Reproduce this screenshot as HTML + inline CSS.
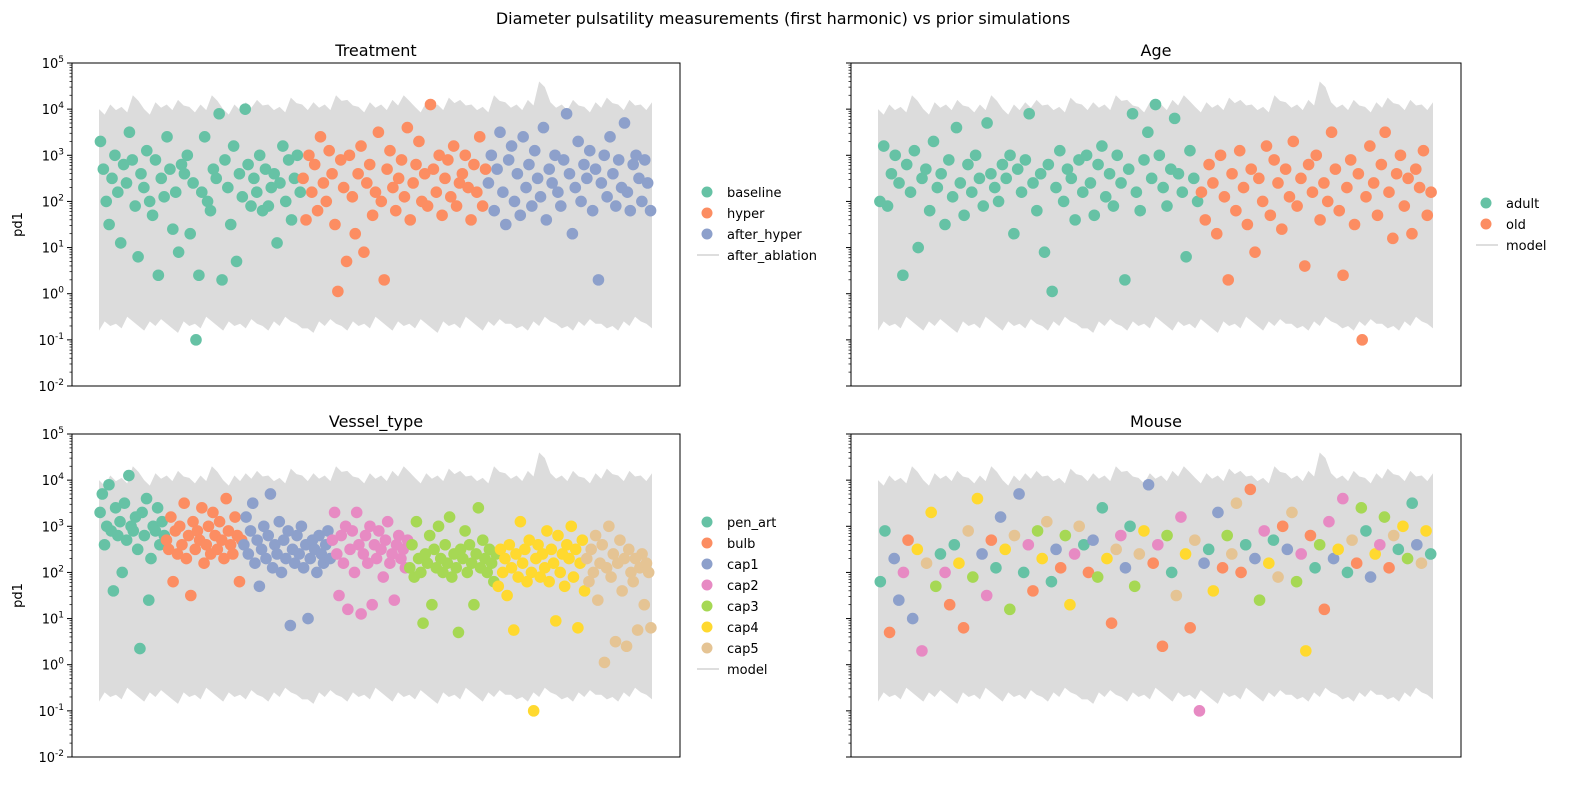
<!DOCTYPE html>
<html><head><meta charset="utf-8"><style>
body{margin:0;background:#fff;font-family:"Liberation Sans","DejaVu Sans",sans-serif;}
svg text{font-family:"DejaVu Sans","Liberation Sans",sans-serif;}
</style></head><body>
<svg id="fig" width="1590" height="788" xmlns="http://www.w3.org/2000/svg">
<text x="783" y="24" font-size="16" text-anchor="middle">Diameter pulsatility measurements (first harmonic) vs prior simulations</text>
</svg>
<script>
const COLORS=["#66c2a5","#fc8d62","#8da0cb","#e78ac3","#a6d854","#ffd92f","#e5c494"];
const yMinExp=-2, yMaxExp=5;
// model band (log10 upper/lower envelopes)
const modelTop=[4.0,4.1,4.05,4.3,4.0,4.15,4.1,4.2,4.05,4.1,4.3,4.0,4.1,4.15,4.2,4.1,4.05,4.25,4.1,4.15,4.1,4.3,4.2,4.05,4.15,4.1,4.2,4.3,4.05,4.15,4.1,4.25,4.2,4.1,4.05,4.3,4.15,4.1,4.2,4.6,4.15,4.1,4.2,4.05,4.15,4.25,4.1,4.2,4.1,4.15];
const modelBot=[-0.8,-0.7,-0.75,-0.6,-0.8,-0.7,-0.65,-0.85,-0.7,-0.75,-0.6,-0.8,-0.7,-0.75,-0.65,-0.8,-0.7,-0.6,-0.75,-0.85,-0.7,-0.65,-0.8,-0.7,-0.75,-0.6,-0.8,-0.7,-0.75,-0.65,-0.85,-0.7,-0.75,-0.6,-0.8,-0.7,-0.65,-0.75,-0.8,-0.7,-0.6,-0.75,-0.8,-0.7,-0.65,-0.75,-0.8,-0.7,-0.6,-0.75];
// Treatment
const baseline=[3.3,2.7,2.0,1.5,2.5,3.0,2.2,1.1,2.8,2.4,3.5,2.9,1.9,0.8,2.6,2.3,3.1,2.0,1.7,2.9,0.4,2.5,2.1,3.4,2.7,1.4,2.2,0.9,2.8,2.6,3.0,1.3,2.4,-1.0,0.4,2.2,3.4,2.0,1.8,2.7,2.5,3.9,0.3,2.9,2.3,1.5,3.2,0.7,2.6,2.1,4.0,2.8,1.9,2.5,2.2,3.0,1.8,2.7,1.9,2.3,2.6,1.1,2.4,3.2,2.0,2.9,1.6,2.5,3.0,2.2];
const hyper=[2.5,1.6,3.0,2.2,2.8,1.8,3.4,2.4,2.0,3.1,2.6,1.5,0.05,2.9,2.3,0.7,3.0,2.1,1.3,2.6,3.2,0.9,2.4,2.8,1.7,2.2,3.5,2.0,0.3,2.7,3.1,2.3,1.8,2.5,2.9,2.1,3.6,1.6,2.4,2.8,3.3,2.0,2.6,1.9,4.1,2.7,2.2,3.0,1.7,2.5,2.9,2.1,3.2,1.9,2.4,2.6,3.0,2.3,1.6,2.8,2.2,3.4,1.9,2.7];
const afterHyper=[2.4,3.0,1.8,2.7,3.5,2.2,1.5,2.9,3.2,2.0,2.6,1.7,3.4,2.3,2.8,1.9,3.1,2.5,2.1,3.6,1.6,2.7,2.4,3.0,2.2,1.9,2.9,3.9,2.6,1.3,2.3,3.3,2.0,2.8,2.5,3.1,1.8,2.7,0.3,2.4,3.0,2.1,3.4,2.6,1.9,2.9,2.3,3.7,2.2,1.8,2.8,3.0,2.5,2.0,2.9,2.4,1.8];
// Age
const adult=[2.0,3.2,1.9,2.6,3.0,2.4,0.4,2.8,2.2,3.1,1.0,2.5,2.7,1.8,3.3,2.3,2.6,1.5,2.9,2.1,3.6,2.4,1.7,2.8,2.2,3.0,2.5,1.9,3.7,2.6,2.3,2.0,2.8,2.5,3.0,1.3,2.7,2.2,2.9,3.9,2.4,1.8,2.6,0.9,2.8,0.05,2.3,3.1,2.0,2.7,2.5,1.6,2.9,2.2,3.0,2.4,1.7,2.8,3.2,2.1,2.6,1.9,3.0,2.4,0.3,2.7,3.9,2.2,1.8,2.9,3.5,2.5,4.1,3.0,2.3,1.9,2.7,3.8,2.6,2.2,0.8,3.1,2.5,2.0];
const old=[2.2,1.6,2.8,2.4,1.3,3.0,2.1,0.3,2.6,1.8,3.1,2.3,1.5,2.7,0.9,2.5,2.0,3.2,1.7,2.9,2.4,1.4,2.7,2.1,3.3,1.9,2.5,0.6,2.8,2.2,3.0,1.6,2.4,2.0,3.5,2.7,1.8,0.4,2.3,2.9,1.5,2.6,-1.0,2.1,3.2,2.4,1.7,2.8,3.5,2.2,1.2,2.6,3.0,1.9,2.5,1.3,2.7,2.3,3.1,1.7,2.2];
// Vessel type
const penArt=[3.3,3.7,2.6,3.0,3.9,2.9,1.6,3.4,2.8,3.1,2.0,3.5,2.7,4.1,3.0,2.9,3.2,2.5,0.35,3.3,2.8,3.6,1.4,2.3,3.0,2.9,3.4,2.6,3.1,2.8];
const bulb=[2.7,2.5,3.2,1.8,2.9,2.4,3.0,2.6,3.5,2.3,2.8,1.5,3.1,2.5,2.9,2.7,3.4,2.2,2.6,3.0,2.4,3.3,2.8,2.5,3.1,2.7,2.3,3.6,2.9,2.6,2.4,3.2,2.8,1.8,2.7];
const cap1=[2.6,3.2,2.4,2.9,3.5,2.2,2.7,1.7,2.5,3.0,2.3,2.8,3.7,2.1,2.6,2.4,3.1,2.0,2.7,2.3,2.9,0.85,2.5,2.2,2.8,2.4,3.0,2.1,2.6,1.0,2.3,2.7,2.5,2.0,2.8,2.4,2.2,2.6,2.9,2.3];
const cap2=[2.7,3.3,2.4,1.5,2.8,2.2,3.0,1.2,2.5,2.9,2.0,3.3,2.6,1.1,2.4,2.8,2.2,3.0,1.3,2.6,2.3,2.9,2.5,1.9,2.7,3.1,2.2,2.4,1.4,2.6,2.8,2.3,2.5,2.1,2.7];
const cap3=[2.1,2.6,1.9,3.1,2.3,2.0,0.9,2.4,2.2,2.8,1.3,2.5,2.1,3.0,2.3,2.0,2.6,2.2,3.2,1.9,2.4,2.1,0.7,2.5,2.3,2.9,2.0,2.6,2.2,1.3,2.4,3.4,2.1,2.7,2.3,2.0,2.5,2.2,1.8,2.4];
const cap4=[1.7,2.5,2.0,2.3,1.5,2.6,2.1,0.75,2.4,1.9,3.1,2.2,2.5,1.8,2.7,2.0,-1.0,2.3,2.6,1.9,2.4,2.1,2.9,1.8,2.5,2.2,0.95,2.8,2.0,2.4,1.7,2.6,2.3,3.0,1.9,2.5,0.8,2.2,2.7,1.6];
const cap5=[2.3,1.8,2.5,2.0,2.8,1.4,2.2,2.6,0.05,2.1,3.0,1.9,2.4,0.5,2.2,2.7,1.6,2.3,0.4,2.5,2.0,1.8,2.3,0.75,2.1,2.4,1.3,2.2,2.0,0.8];
// Mouse (values and mouse group index)
const mouseVals=[1.8,2.9,0.7,2.3,1.4,2.0,2.7,1.0,2.5,0.3,2.2,3.3,1.7,2.4,2.0,1.3,2.6,2.2,0.8,2.9,1.9,3.6,2.4,1.5,2.7,2.1,3.2,2.5,1.2,2.8,3.7,2.0,2.6,1.6,2.9,2.3,3.1,1.8,2.5,2.1,2.8,1.3,2.4,3.0,2.6,2.0,2.7,1.9,3.4,2.3,0.9,2.5,2.8,2.1,3.0,1.7,2.4,2.9,3.9,2.2,2.6,0.4,2.8,2.0,1.5,3.2,2.4,0.8,2.7,-1.0,2.2,2.5,1.6,3.3,2.1,2.8,2.4,3.5,2.0,2.6,3.8,2.3,1.4,2.9,2.2,2.7,1.9,3.0,2.5,3.3,1.8,2.4,0.3,2.8,2.1,2.6,1.2,3.1,2.3,2.5,3.6,2.0,2.7,2.2,3.4,2.9,1.9,2.4,2.6,3.2,2.1,2.8,2.5,3.0,2.3,3.5,2.6,2.2,2.9,2.4];
const mouseGrp=[0,0,1,2,2,3,1,2,5,3,6,5,4,0,3,1,0,5,1,6,4,5,2,3,1,0,2,5,4,6,2,0,3,1,4,5,6,0,2,1,4,5,3,6,0,1,2,4,0,5,1,6,3,2,0,4,6,5,2,1,3,1,4,0,6,3,5,1,6,3,2,0,5,2,1,4,6,6,1,0,1,2,4,3,5,0,6,1,2,6,4,3,5,1,0,4,1,3,2,5,3,0,6,1,4,0,2,5,3,4,1,6,0,5,4,0,2,6,5,0];

const svg=document.getElementById('fig');
const NS="http://www.w3.org/2000/svg";
function mk(tag,attrs,parent){const e=document.createElementNS(NS,tag);for(const k in attrs)e.setAttribute(k,attrs[k]);(parent||svg).appendChild(e);return e;}

function panel(px,py,pw,ph,title,showLabels,groups,legendX,legendY,legendLabels,name){
  const g=mk('g',{});
  
  
  const yS=v=>py+(yMaxExp-v)/(yMaxExp-yMinExp)*ph;
  const x0=px+27,x1=px+pw-28;
  // model band
  let pts=[];const n=modelTop.length;
  for(let i=0;i<n;i++){const x=x0+(x1-x0)*i/(n-1);pts.push(x+','+yS(modelTop[i]));if(i<n-1){pts.push((x+(x1-x0)/(n-1)/2)+','+yS(modelTop[i]-0.12));}}
  for(let i=n-1;i>=0;i--){const x=x0+(x1-x0)*i/(n-1);pts.push(x+','+yS(modelBot[i]));if(i>0){pts.push((x-(x1-x0)/(n-1)/2)+','+yS(modelBot[i]+0.1));}}
  const band=mk('polygon',{points:pts.join(' '),fill:'#dcdcdc'},g);
  
  
  // points
  const sg=mk('g',{},g);
  
  
  let total=0;groups.forEach(gr=>total+=gr.vals.length);
  let k=0;
  groups.forEach(gr=>{gr.vals.forEach((v,i)=>{
    const x=x0+(x1-x0)*(k+0.5)/total;k++;
    const c=mk('circle',{cx:x,cy:yS(v),r:5.8,fill:COLORS[gr.col?gr.col[i]:gr.c]},sg);
    
    
  });});
  // frame
  mk('rect',{x:px,y:py,width:pw,height:ph,fill:'none',stroke:'#000','stroke-width':1},g);
  // ticks
  for(let e=yMinExp;e<=yMaxExp;e++){
    const y=yS(e);
    mk('line',{x1:px-5,x2:px,y1:y,y2:y,stroke:'#000'},g);
    if(showLabels){const t=mk('text',{x:px-8,y:y+5,'font-size':13,'text-anchor':'end'},g);
      t.innerHTML='10<tspan dy="-6" font-size="9">'+e+'</tspan>';
      
      }
    if(e<yMaxExp)for(let m=2;m<10;m++){const ym=yS(e+Math.log10(m));mk('line',{x1:px-2.5,x2:px,y1:ym,y2:ym,stroke:'#000','stroke-width':0.7},g);}
  }
  const tt=mk('text',{x:px+pw/2,y:py-7,'font-size':16,'text-anchor':'middle'},g);tt.textContent=title;
  
  
  if(showLabels){const yl=mk('text',{x:0,y:0,'font-size':13,'text-anchor':'middle',transform:'translate(22,'+(py+ph/2)+') rotate(-90)'},g);yl.textContent='pd1';
    
    }
  // legend
  const lg=mk('g',{},g);
  
  
  legendLabels.forEach((l,i)=>{
    const y=legendY+i*21;
    if(l.model){mk('line',{x1:legendX-10,x2:legendX+12,y1:y,y2:y,stroke:'#d3d3d3','stroke-width':1.5},lg);}
    else mk('circle',{cx:legendX,cy:y,r:5.5,fill:COLORS[l.c]},lg);
    const t=mk('text',{x:legendX+20,y:y+5,'font-size':13},lg);t.textContent=l.t;
    
    
  });
}
panel(72,63,608,323,'Treatment',true,[{vals:baseline,c:0},{vals:hyper,c:1},{vals:afterHyper,c:2}],707,192,
 [{t:'baseline',c:0},{t:'hyper',c:1},{t:'after_hyper',c:2},{t:'after_ablation',model:1}],'treatment-panel');
panel(851,63,610,323,'Age',false,[{vals:adult,c:0},{vals:old,c:1}],1486,203,
 [{t:'adult',c:0},{t:'old',c:1},{t:'model',model:1}],'age-panel');
panel(72,434,608,323,'Vessel_type',true,[{vals:penArt,c:0},{vals:bulb,c:1},{vals:cap1,c:2},{vals:cap2,c:3},{vals:cap3,c:4},{vals:cap4,c:5},{vals:cap5,c:6}],707,522,
 [{t:'pen_art',c:0},{t:'bulb',c:1},{t:'cap1',c:2},{t:'cap2',c:3},{t:'cap3',c:4},{t:'cap4',c:5},{t:'cap5',c:6},{t:'model',model:1}],'vessel-type-panel');
panel(851,434,610,323,'Mouse',false,[{vals:mouseVals,col:mouseGrp}],9999,0,[],'mouse-panel');
</script>
</body></html>
